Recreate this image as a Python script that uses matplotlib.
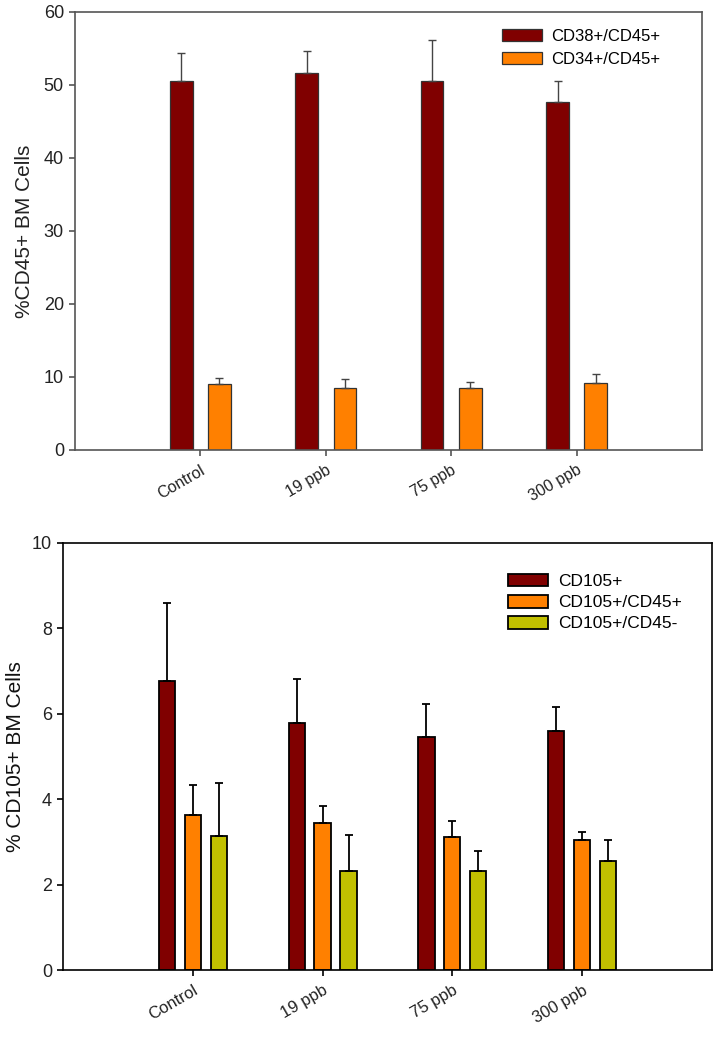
import matplotlib
matplotlib.use("Agg")
import matplotlib.pyplot as plt
import numpy as np

plt.rcParams['font.family'] = ['Liberation Sans', 'DejaVu Sans']

groups = ["Control", "19 ppb", "75 ppb", "300 ppb"]

# top panel
cd38 = [50.6, 51.6, 50.5, 47.6]
cd38_err = [3.8, 3.0, 5.7, 2.9]
cd34 = [9.0, 8.45, 8.5, 9.2]
cd34_err = [0.8, 1.25, 0.85, 1.2]

# bottom panel
cd105 = [6.78, 5.78, 5.45, 5.59]
cd105_err = [1.82, 1.04, 0.77, 0.58]
cd105_45p = [3.64, 3.44, 3.12, 3.04]
cd105_45p_err = [0.70, 0.41, 0.38, 0.20]
cd105_45n = [3.13, 2.33, 2.31, 2.56]
cd105_45n_err = [1.24, 0.83, 0.48, 0.48]

dark_red = "#800000"
orange = "#ff8000"
olive = "#c2c000"

fig = plt.figure(figsize=(7.17, 10.56), dpi=100)
x = np.arange(1, len(groups) + 1)

def style_axes(ax, col, xsize):
    for s in ax.spines.values():
        s.set_color(col)
        s.set_linewidth(1.2)
    ax.set_xlim(0, 5)
    ax.set_xticks(x)
    ax.set_xticklabels(groups, rotation=30, ha='right', rotation_mode='anchor')
    ax.tick_params(direction='out', length=4, width=1.2, color=col, labelcolor='#222222')
    ax.tick_params(axis='x', labelsize=xsize, pad=5)
    ax.tick_params(axis='y', labelsize=13, pad=4)

# ---- top chart
ax1 = fig.add_axes([0.1046, 0.5739, 0.8745, 0.4148])
w1 = 0.18
ekw1 = dict(ecolor='#444444', elinewidth=1.0, capthick=1.0)
ax1.bar(x - 0.152, cd38, w1, color=dark_red, edgecolor='#333333', linewidth=0.9,
        yerr=[np.zeros(4), cd38_err], capsize=2.6, error_kw=ekw1, label="CD38+/CD45+")
ax1.bar(x + 0.152, cd34, w1, color=orange, edgecolor='#333333', linewidth=0.9,
        yerr=[np.zeros(4), cd34_err], capsize=2.6, error_kw=ekw1, label="CD34+/CD45+")
ax1.set_ylim(0, 60)
ax1.set_yticks(np.arange(0, 61, 10))
style_axes(ax1, '#555555', 11.5)
ax1.set_ylabel("%CD45+ BM Cells", fontsize=15, color='#222222')
ax1.yaxis.set_label_coords(-0.066, 0.5)
ax1.legend(loc='upper left', bbox_to_anchor=(0.681, 0.961), frameon=False, fontsize=12,
           handlelength=2.4, handleheight=0.75, handletextpad=0.55, labelspacing=0.45,
           borderpad=0, borderaxespad=0)

# ---- bottom chart
ax2 = fig.add_axes([0.0879, 0.0814, 0.905, 0.4044])
w2 = 0.125
kw = dict(edgecolor='black', linewidth=1.3, capsize=3.0,
          error_kw=dict(ecolor='black', elinewidth=1.3, capthick=1.3))
ax2.bar(x - 0.2, cd105, w2, color=dark_red, yerr=[np.zeros(4), cd105_err], label="CD105+", **kw)
ax2.bar(x, cd105_45p, w2, color=orange, yerr=[np.zeros(4), cd105_45p_err], label="CD105+/CD45+", **kw)
ax2.bar(x + 0.2, cd105_45n, w2, color=olive, yerr=[np.zeros(4), cd105_45n_err], label="CD105+/CD45-", **kw)
ax2.set_ylim(0, 10)
ax2.set_yticks(np.arange(0, 11, 2))
style_axes(ax2, 'black', 12)
ax2.set_ylabel("% CD105+ BM Cells", fontsize=15, color='#111111')
ax2.yaxis.set_label_coords(-0.058, 0.5)
ax2.legend(loc='upper left', bbox_to_anchor=(0.686, 0.928), frameon=False, fontsize=12.5,
           handlelength=2.3, handleheight=0.75, handletextpad=0.55, labelspacing=0.33,
           borderpad=0, borderaxespad=0)

fig.savefig("out.png", dpi=100)
